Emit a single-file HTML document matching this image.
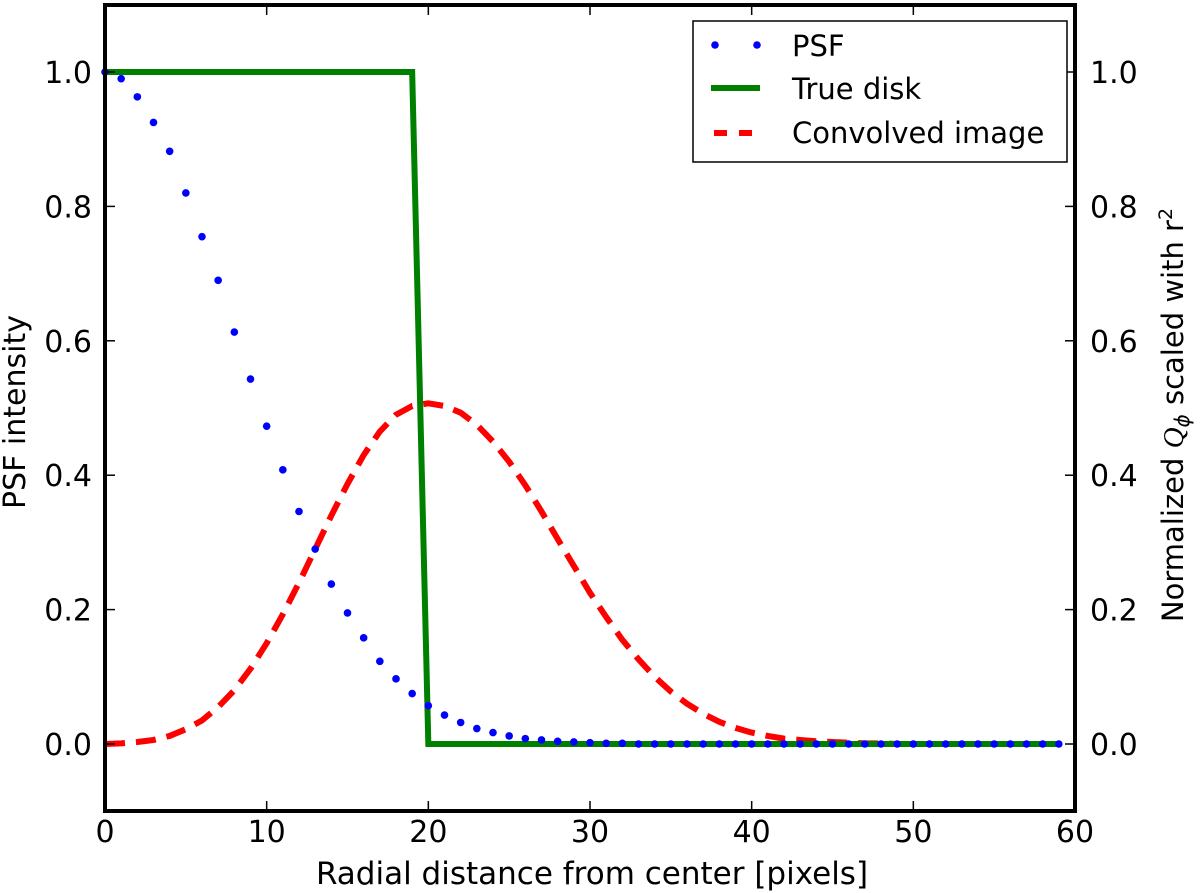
<!DOCTYPE html>
<html><head><meta charset="utf-8"><style>
body{margin:0;background:#fff}
svg text{font-family:"DejaVu Sans","Liberation Sans",sans-serif;fill:#000}
</style></head><body>
<svg id="chart" width="1200" height="893" viewBox="0 0 1200 893" xmlns="http://www.w3.org/2000/svg" style="position:absolute;left:0;top:0">
<g id="marks"></g>
<g id="axes"></g>
</svg>
<script>
const psfX=[0,1,2,3,4,5,6,7,8,9,10,11,12,13,14,15,16,17,18,19,20,21,22,23,24,25,26,27,28,29,30,31,32,33,34,35,36,37,38,39,40,41,42,43,44,45,46,47,48,49,50,51,52,53,54,55,56,57,58,59];
const psfY=[1.0,0.99,0.963,0.925,0.882,0.82,0.755,0.69,0.613,0.543,0.473,0.408,0.346,0.29,0.238,0.195,0.158,0.123,0.097,0.075,0.057,0.043,0.032,0.023,0.017,0.012,0.008,0.006,0.004,0.003,0.002,0.001,0.001,0,0,0,0,0,0,0,0,0,0,0,0,0,0,0,0,0,0,0,0,0,0,0,0,0,0,0];
const diskX=[0,19,20,59];
const diskY=[1,1,0,0];
const convX=[0,1,2,3,4,5,6,7,8,9,10,11,12,13,14,15,16,17,18,19,20,21,22,23,24,25,26,27,28,29,30,31,32,33,34,35,36,37,38,39,40,41,42,43,44,45,46,47,48,49,50,51,52,53,54,55,56,57,58,59];
const convY=[0,0.001,0.003,0.006,0.012,0.022,0.035,0.055,0.08,0.112,0.15,0.193,0.24,0.29,0.34,0.387,0.43,0.465,0.49,0.503,0.507,0.503,0.493,0.475,0.45,0.42,0.385,0.346,0.305,0.265,0.225,0.189,0.155,0.126,0.1,0.078,0.06,0.045,0.033,0.024,0.017,0.012,0.008,0.006,0.004,0.003,0.002,0.001,0.001,0,0,0,0,0,0,0,0,0,0,0];
const xTicks=[0,10,20,30,40,50,60];
const yTicks=[0.0,0.2,0.4,0.6,0.8,1.0];
const L=105,R=1075,T=5,B=811;
const X=v=>L+(v-0)/60*(R-L);
const Y=v=>744-v*672;
const NS="http://www.w3.org/2000/svg";
function mk(p,tag,attrs){const e=document.createElementNS(NS,tag);for(const k in attrs)e.setAttribute(k,attrs[k]);p.appendChild(e);return e;}
const marks=document.getElementById('marks'),axes=document.getElementById('axes');
let d=convX.map((x,i)=>(i?'L':'M')+X(x)+','+Y(convY[i])).join(' ');
let c=mk(marks,'path',{d:d,fill:'none',stroke:'#ff0000','stroke-width':6,'stroke-dasharray':'20,11','stroke-linejoin':'round'});


d=diskX.map((x,i)=>(i?'L':'M')+X(x)+','+Y(diskY[i])).join(' ');
let g=mk(marks,'path',{d:d,fill:'none',stroke:'#008000','stroke-width':6});


psfX.forEach((x,i)=>{const p=mk(marks,'circle',{cx:X(x),cy:Y(psfY[i]),r:3.8,fill:'#0000ff'});

});
let f=mk(axes,'rect',{x:L,y:T,width:R-L,height:B-T,fill:'none',stroke:'#000','stroke-width':4});


xTicks.forEach(v=>{const x=X(v);
mk(axes,'line',{x1:x,x2:x,y1:B,y2:B-10,stroke:'#000','stroke-width':1.5});
mk(axes,'line',{x1:x,x2:x,y1:T,y2:T+10,stroke:'#000','stroke-width':1.5});
const t=mk(axes,'text',{x:x,y:842,'font-size':30,'text-anchor':'middle'});t.textContent=v;

});
yTicks.forEach(v=>{const y=Y(v);
mk(axes,'line',{x1:L,x2:L+10,y1:y,y2:y,stroke:'#000','stroke-width':1.5});
mk(axes,'line',{x1:R,x2:R-10,y1:y,y2:y,stroke:'#000','stroke-width':1.5});
const t=mk(axes,'text',{x:L-13,y:y+11,'font-size':30,'text-anchor':'end'});t.textContent=v.toFixed(1);


const t2=mk(axes,'text',{x:R+15,y:y+11,'font-size':30});t2.textContent=v.toFixed(1);

});
</script>
<svg style="position:absolute;left:0;top:0" width="1200" height="893">
<text x="592" y="884" font-size="31" text-anchor="middle">Radial distance from center [pixels]</text>
<text transform="translate(25,412) rotate(-90)" font-size="30" text-anchor="middle">PSF intensity</text>
<text transform="translate(1183,415) rotate(-90)" font-size="29" text-anchor="middle">Normalized <tspan font-style="italic" font-family="Liberation Serif">Q</tspan><tspan font-style="italic" font-size="20" dy="6">ϕ</tspan><tspan dy="-6"> scaled with r</tspan><tspan font-size="19" dy="-11">2</tspan></text>
<g>
<rect x="693" y="21" width="374" height="141" fill="#fff" stroke="#000" stroke-width="1.5"/>
<g><circle cx="715" cy="45" r="3.8" fill="#0000ff"/><circle cx="757" cy="45" r="3.8" fill="#0000ff"/><text x="792" y="56" font-size="29">PSF</text></g>
<g><line x1="711" x2="760" y1="88" y2="88" stroke="#008000" stroke-width="6"/><text x="792" y="99" font-size="29">True disk</text></g>
<g><line x1="714" x2="727" y1="133" y2="133" stroke="#ff0000" stroke-width="6"/><line x1="739" x2="752" y1="133" y2="133" stroke="#ff0000" stroke-width="6"/><text x="792" y="143" font-size="29">Convolved image</text></g>
</g>
</svg>
</body></html>
